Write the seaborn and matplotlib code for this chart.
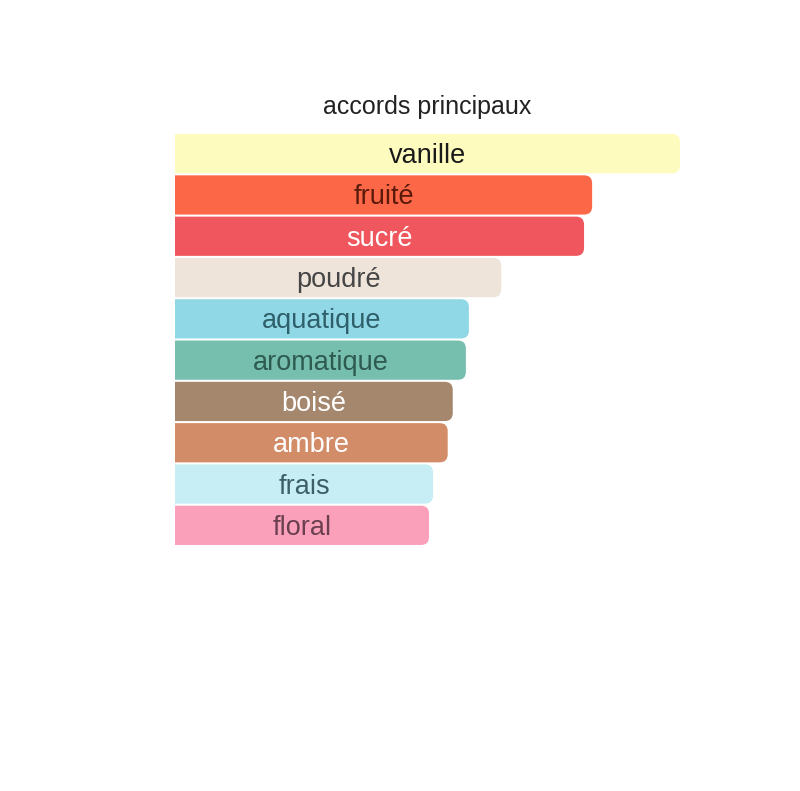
import matplotlib
matplotlib.use("Agg")
import matplotlib.pyplot as plt
import seaborn as sns
import pandas as pd
from matplotlib.patches import FancyBboxPatch

accords = ["vanille", "fruité", "sucré", "poudré", "aquatique", "aromatique",
           "boisé", "ambre", "frais", "floral"]
values = [100, 82.6, 81.0, 64.6, 58.2, 57.6, 55.0, 54.0, 51.1, 50.3]
bar_colors = ["#FEFBBE", "#FC6847", "#F0565E", "#EEE4DA", "#90D8E6", "#76BFAE",
              "#A5876D", "#D28C68", "#C6EEF4", "#FBA0BB"]
text_colors = ["#1a1a1a", "#5a1a0a", "#ffffff", "#454545", "#2f5f6a", "#2e5a50",
               "#ffffff", "#ffffff", "#3d5f66", "#6a4050"]
title = "accords principaux"

sns.set_theme(style="white")
plt.rcParams['font.family'] = ['Liberation Sans', 'DejaVu Sans']

df = pd.DataFrame({"accord": accords, "value": values})

W, H = 800, 791
fig = plt.figure(figsize=(W / 100, H / 100), dpi=100)
left, right, top, bottom = 175, 680, 133, 546
ax = fig.add_axes([left / W, 1 - bottom / H, (right - left) / W, (bottom - top) / H])

sns.barplot(data=df, y="accord", x="value", hue="accord", palette=bar_colors,
            legend=False, width=0.95, saturation=1, ax=ax, orient="h")
ax.set_xlim(0, 100)
ax.set_ylim(len(accords) - 0.5, -0.5)

px_x = (right - left) / 100.0
px_y = (bottom - top) / len(accords)
r_px = 8
aspect = (1 / px_y) / (1 / px_x)

patches = list(ax.patches)
for p in patches:
    x0, y0 = p.get_x(), p.get_y()
    w, h = p.get_width(), p.get_height()
    fc = p.get_facecolor()
    p.remove()
    fb = FancyBboxPatch((x0 - 5, y0), w + 5, h,
                        boxstyle=f"round,pad=0,rounding_size={r_px / px_x}",
                        mutation_aspect=aspect, facecolor=fc, edgecolor="none",
                        clip_on=True)
    ax.add_patch(fb)

for i, (name, v) in enumerate(zip(accords, values)):
    ax.text(v / 2, i + 0.06, name, ha="center", va="center", fontsize=19.5,
            color=text_colors[i])

ax.set_title(title, fontsize=18, color="#222222", pad=14)
ax.set_xlabel("")
ax.set_ylabel("")
ax.set_xticks([])
ax.set_yticks([])
for s in ax.spines.values():
    s.set_visible(False)

fig.savefig("out.png", dpi=100, facecolor="white")
